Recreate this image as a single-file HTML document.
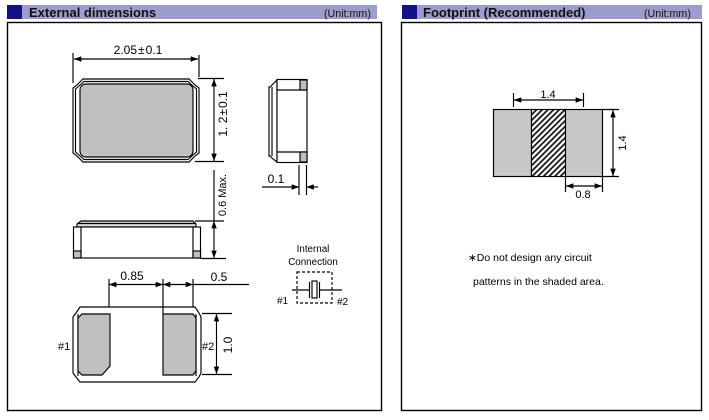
<!DOCTYPE html>
<html><head><meta charset="utf-8"><style>
html,body{margin:0;padding:0;background:#fff;}
svg{display:block;font-family:"Liberation Sans",Arial,sans-serif;}
</style></head><body>
<svg width="709" height="420" viewBox="0 0 709 420" xmlns="http://www.w3.org/2000/svg">
<defs>
<marker id="a" viewBox="0 0 8 6" refX="8" refY="3" markerWidth="8" markerHeight="5.5" markerUnits="userSpaceOnUse" orient="auto-start-reverse"><path d="M0,0L8,3L0,6z" fill="#000"/></marker>
<pattern id="h" width="4" height="4" patternUnits="userSpaceOnUse" patternTransform="rotate(45)"><rect width="4" height="4" fill="#fff"/><line x1="1" y1="0" x2="1" y2="4" stroke="#000" stroke-width="1.6"/></pattern>
</defs>

<!-- headers -->
<rect x="7" y="5" width="370" height="14" fill="#9c9ccf"/>
<rect x="7" y="5" width="15" height="14" fill="#12128a"/>
<text x="29" y="17" font-size="13" font-weight="bold" fill="#111">External dimensions</text>
<text x="324" y="17" font-size="10.7" fill="#111">(Unit:mm)</text>

<rect x="402" y="5" width="300" height="14" fill="#9c9ccf"/>
<rect x="402" y="5" width="15" height="14" fill="#12128a"/>
<text x="423" y="17" font-size="13" font-weight="bold" fill="#111">Footprint (Recommended)</text>
<text x="644" y="17" font-size="10.7" fill="#111">(Unit:mm)</text>

<!-- boxes -->
<rect x="7.5" y="22.5" width="374" height="388" fill="none" stroke="#000" stroke-width="1.4"/>
<rect x="401.5" y="22.5" width="300" height="388" fill="none" stroke="#000" stroke-width="1.4"/>

<g stroke="#000" stroke-width="1.15" fill="none">
<!-- top view chip -->
<polygon points="83,79 189,79 195,85 199,88 199,153 195,156 189,162 83,162 77,156 73,153 73,88 77,85" fill="#fff"/>
<polygon points="84,81.5 188,81.5 193,86 196.5,89 196.5,152 193,155 188,159.5 84,159.5 79,155 75.5,152 75.5,89 79,86"/>
<rect x="80" y="84" width="113" height="73" rx="6" fill="#c0c0c0"/>

<!-- 2.05 dim -->
<line x1="73" y1="53" x2="73" y2="83"/>
<line x1="199" y1="55" x2="199" y2="77"/>
<line x1="74" y1="59" x2="198" y2="59" marker-start="url(#a)" marker-end="url(#a)"/>
<!-- 1.2 dim -->
<line x1="198" y1="78.5" x2="224" y2="78.5"/>
<line x1="195" y1="161.5" x2="224" y2="161.5"/>
<line x1="214" y1="79" x2="214" y2="161" marker-start="url(#a)" marker-end="url(#a)"/>

<!-- side view right -->
<polygon points="277,80 273,84 270,87 269,87 269,156 270,156 273,159 277,162" fill="#fff"/>
<line x1="272" y1="87" x2="272" y2="156"/>
<rect x="277" y="79.5" width="30" height="83" fill="#fff"/>
<line x1="277" y1="90" x2="307" y2="90"/>
<line x1="277" y1="152" x2="307" y2="152"/>
<rect x="300" y="80" width="7" height="10" fill="#c0c0c0"/>
<rect x="300" y="152" width="7" height="10" fill="#c0c0c0"/>
<!-- 0.1 dim -->
<line x1="299" y1="165" x2="299" y2="195"/>
<line x1="306.5" y1="165" x2="306.5" y2="195"/>
<line x1="262" y1="187" x2="299" y2="187" marker-end="url(#a)"/>
<line x1="318" y1="187" x2="306.5" y2="187" marker-end="url(#a)"/>

<!-- side view below -->
<polygon points="81,221 193,221 196,224 196,227 77,227 77,224" fill="#e0e0e0"/>
<line x1="78" y1="223.5" x2="195" y2="223.5"/>
<rect x="73.5" y="227" width="127" height="31" fill="#fff"/>
<line x1="81" y1="227" x2="81" y2="258"/>
<line x1="193" y1="227" x2="193" y2="258"/>
<rect x="73.5" y="251" width="7.5" height="7" fill="#c0c0c0"/>
<rect x="193" y="251" width="7.5" height="7" fill="#c0c0c0"/>
<!-- 0.6 dim -->
<line x1="195" y1="221" x2="224" y2="221"/>
<line x1="200" y1="258.5" x2="226" y2="258.5"/>
<line x1="214" y1="170" x2="214" y2="221"/>
<line x1="214" y1="221" x2="214" y2="258" marker-start="url(#a)" marker-end="url(#a)"/>

<!-- bottom view -->
<polygon points="80,307 195,307 199,313 201,317 201,373 199,377 195,382 80,382 76,377 73,373 73,317 76,313" fill="#fff"/>
<line x1="78" y1="314" x2="78" y2="376"/>
<line x1="196" y1="314" x2="196" y2="376"/>
<polygon points="82,314 110,314 110,366 102,375 82,375 78,371 78,318" fill="#c0c0c0"/>
<polygon points="163,314 193,314 196,318 196,371 193,375 163,375" fill="#c0c0c0"/>
<!-- 0.85 / 0.5 dims -->
<line x1="109" y1="279" x2="109" y2="307"/>
<line x1="163" y1="279" x2="163" y2="314"/>
<line x1="193" y1="279" x2="193" y2="307"/>
<line x1="109" y1="284.5" x2="163" y2="284.5" marker-start="url(#a)" marker-end="url(#a)"/>
<line x1="163" y1="284.5" x2="193" y2="284.5" marker-start="url(#a)" marker-end="url(#a)"/>
<line x1="193" y1="284.5" x2="249" y2="284.5"/>
<!-- 1.0 dim -->
<line x1="202" y1="313.5" x2="232" y2="313.5"/>
<line x1="202" y1="374.5" x2="232" y2="374.5"/>
<line x1="216.5" y1="314" x2="216.5" y2="374" marker-start="url(#a)" marker-end="url(#a)"/>

<!-- internal connection -->
<rect x="297" y="272" width="35" height="31" stroke-dasharray="3,2"/>
<line x1="292" y1="290" x2="309" y2="290"/>
<line x1="319" y1="290" x2="342" y2="290"/>
<line x1="309.5" y1="282" x2="309.5" y2="298"/>
<line x1="319.5" y1="282" x2="319.5" y2="298"/>
<rect x="312" y="281" width="5" height="17" fill="#fff"/>

<!-- footprint -->
<rect x="493.5" y="109.5" width="38" height="67" fill="#c8c8c8"/>
<rect x="531.5" y="109.5" width="34" height="67" fill="url(#h)"/>
<rect x="565.5" y="109.5" width="37" height="67" fill="#c8c8c8"/>
<line x1="513.5" y1="93" x2="513.5" y2="107"/>
<line x1="583.5" y1="93" x2="583.5" y2="107"/>
<line x1="514" y1="100" x2="583" y2="100" marker-start="url(#a)" marker-end="url(#a)"/>
<line x1="602" y1="109.5" x2="619" y2="109.5"/>
<line x1="602" y1="176.5" x2="619" y2="176.5"/>
<line x1="613" y1="110" x2="613" y2="176" marker-start="url(#a)" marker-end="url(#a)"/>
<line x1="565.5" y1="177" x2="565.5" y2="192"/>
<line x1="602.5" y1="177" x2="602.5" y2="192"/>
<line x1="566" y1="186" x2="602" y2="186" marker-start="url(#a)" marker-end="url(#a)"/>
</g>

<g fill="#000">
<text x="138" y="54" font-size="12" text-anchor="middle">2.05<tspan dx="1">±</tspan><tspan dx="1">0.1</tspan></text>
<text transform="translate(227,114) rotate(-90)" font-size="12" text-anchor="middle">1. 2<tspan dx="1">±</tspan><tspan dx="1">0.1</tspan></text>
<text transform="translate(226,195) rotate(-90)" font-size="11" text-anchor="middle">0.6 Max.</text>
<text x="276" y="183" font-size="12" text-anchor="middle">0.1</text>
<text x="132" y="280" font-size="12" text-anchor="middle">0.85</text>
<text x="219" y="281" font-size="12" text-anchor="middle">0.5</text>
<text transform="translate(232,345) rotate(-90)" font-size="12" text-anchor="middle">1.0</text>
<text x="58" y="350" font-size="11">#1</text>
<text x="202" y="350" font-size="11">#2</text>
<text x="313" y="252" font-size="9.8" text-anchor="middle">Internal</text>
<text x="313" y="265" font-size="9.8" text-anchor="middle">Connection</text>
<text x="277" y="304" font-size="10">#1</text>
<text x="337" y="305" font-size="10">#2</text>
<text x="548" y="98" font-size="11" text-anchor="middle">1.4</text>
<text transform="translate(626,143) rotate(-90)" font-size="11" text-anchor="middle">1.4</text>
<text x="583" y="198" font-size="11" text-anchor="middle">0.8</text>
<text x="468" y="261" font-size="10.5">∗Do not design any circuit</text>
<text x="473" y="285" font-size="10.5">patterns in the shaded area.</text>
</g>
</svg>
</body></html>
